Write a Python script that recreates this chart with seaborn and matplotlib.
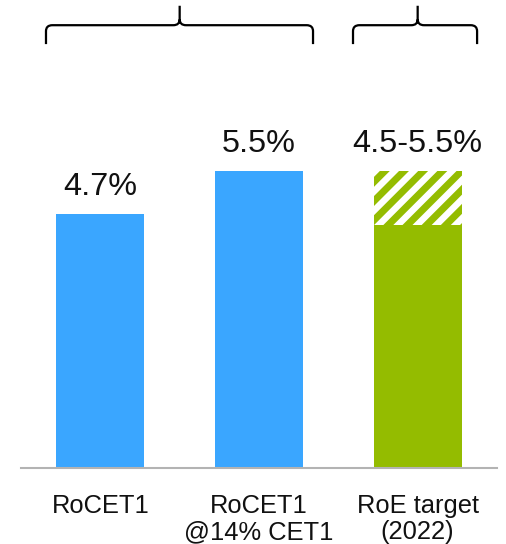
import matplotlib
matplotlib.use("Agg")
import matplotlib.pyplot as plt
from matplotlib.path import Path
from matplotlib.patches import PathPatch
import pandas as pd
import seaborn as sns

# --- data -------------------------------------------------------------
categories = ["RoCET1", "RoCET1\n@14% CET1", "RoE target\n(2022)"]
base_values = [4.7, 5.5, 4.5]          # solid part of each bar (%)
target_low, target_high = 4.5, 5.5     # RoE target range (%)
value_labels = ["4.7%", "5.5%", "4.5-5.5%"]
bar_colors = ["#3AA6FF", "#3AA6FF", "#94BC00"]
brace_groups = [(0, 1), (2, 2)]        # bars grouped under each brace

# --- style ------------------------------------------------------------
sns.set_theme(style="white")
plt.rcParams["font.family"] = ["Liberation Sans", "DejaVu Sans"]
plt.rcParams["hatch.linewidth"] = 4.4

DPI = 115
W, H = 506, 544
fig = plt.figure(figsize=(W / DPI, H / DPI), dpi=DPI)
ax = fig.add_axes([21 / W, 76 / H, 476 / W, 468 / H])

BAR_W = 0.555
df = pd.DataFrame({"category": categories, "value": base_values})
sns.barplot(data=df, x="category", y="value", hue="category",
            palette=bar_colors, width=BAR_W, saturation=1, legend=False,
            linewidth=0, ax=ax)

# hatched upper part of the target range
green = bar_colors[2]
ax.bar(2, target_high - target_low, bottom=target_low, width=BAR_W,
       color="white", edgecolor=green, hatch="//", linewidth=0)

ax.set_xlim(-0.5, 2.5)
ax.set_ylim(0, 468 / 54)

# value labels above each bar
bar_tops = [base_values[0], base_values[1], target_high]
for i, (top, lab) in enumerate(zip(bar_tops, value_labels)):
    ax.annotate(lab, (i, top), xytext=(0, 7.5), textcoords="offset points",
                ha="center", va="bottom", fontsize=20.3, color="#111111")

# axes cosmetics
for side in ["left", "right", "top"]:
    ax.spines[side].set_visible(False)
ax.spines["bottom"].set_color("#b3b3b3")
ax.spines["bottom"].set_linewidth(1.3)
ax.set_yticks([])
ax.set_xticks(range(len(categories)))
ax.set_xticklabels(categories, fontsize=16, linespacing=1.12, color="#111111")
ax.tick_params(axis="x", length=0, pad=16)
ax.set_xlabel("")
ax.set_ylabel("")


# curly braces grouping the bars
def draw_brace(ax, x0, x1, xm, y_end, y_mid, y_tip, rx, ry):
    verts = [
        (x0, y_end), (x0, y_mid - ry),
        (x0, y_mid), (x0 + rx, y_mid),
        (xm - rx, y_mid),
        (xm, y_mid), (xm, y_mid + ry),
        (xm, y_tip),
        (xm, y_mid + ry),
        (xm, y_mid), (xm + rx, y_mid),
        (x1 - rx, y_mid),
        (x1, y_mid), (x1, y_mid - ry),
        (x1, y_end),
    ]
    codes = [Path.MOVETO, Path.LINETO,
             Path.CURVE3, Path.CURVE3,
             Path.LINETO,
             Path.CURVE3, Path.CURVE3,
             Path.LINETO,
             Path.MOVETO,
             Path.CURVE3, Path.CURVE3,
             Path.LINETO,
             Path.CURVE3, Path.CURVE3,
             Path.LINETO]
    ax.add_patch(PathPatch(Path(verts, codes), fill=False, edgecolor="black",
                           linewidth=1.4, capstyle="butt", joinstyle="round",
                           clip_on=False))


pads = [(0.065, 0.063), (0.13, 0.097)]
for (a, b), (pl, pr) in zip(brace_groups, pads):
    left = a - BAR_W / 2 - pl
    right = b + BAR_W / 2 + pr
    mid = (a + b) / 2
    draw_brace(ax, left, right, mid, y_end=7.85, y_mid=8.20, y_tip=8.56,
               rx=0.04, ry=0.11)

fig.savefig("out.png", dpi=DPI)
